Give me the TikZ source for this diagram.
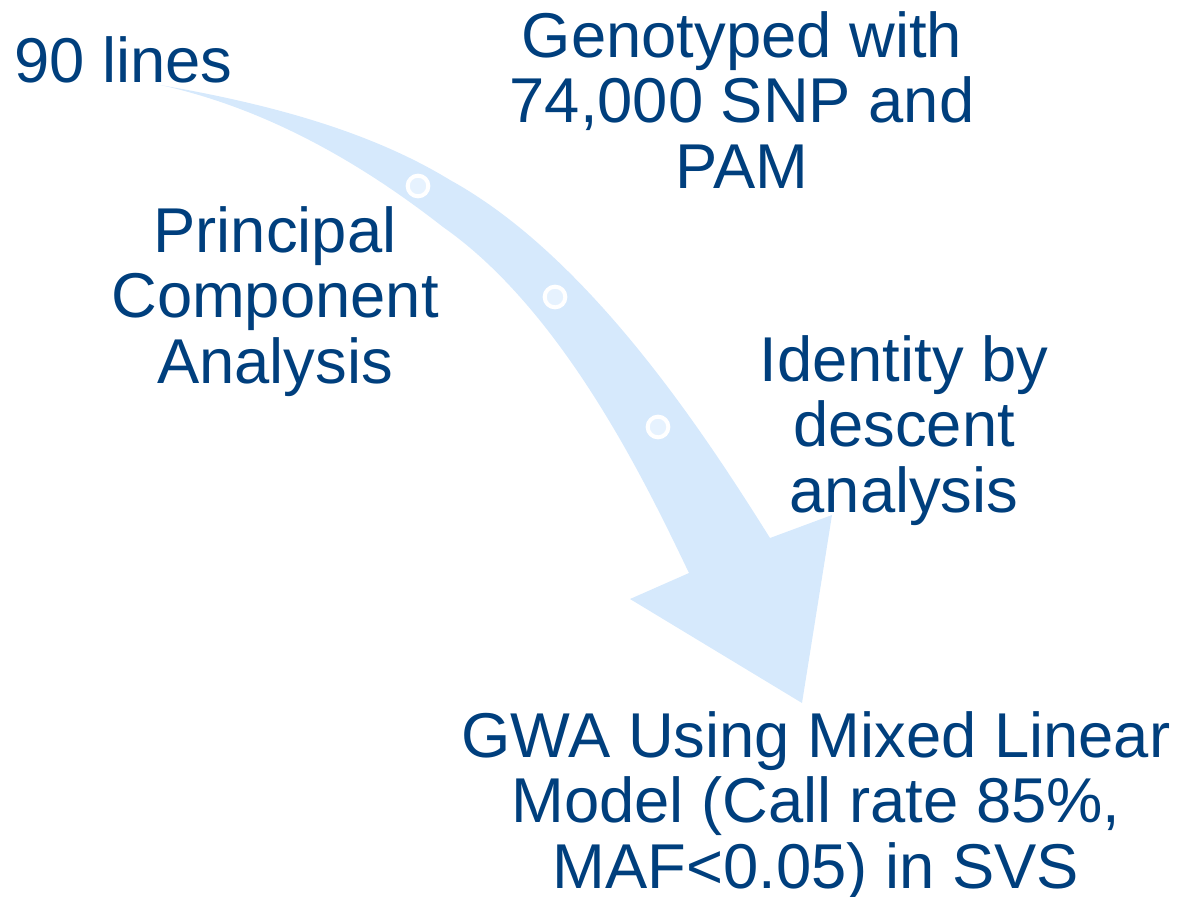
\documentclass[tikz,border=0pt]{standalone}
\usepackage{fontspec}
\setmainfont{Liberation Sans}
\usetikzlibrary{positioning}
\definecolor{stageblue}{RGB}{0,63,125}
\definecolor{arrowblue}{RGB}{214,233,252}
\definecolor{dotblue}{RGB}{230,242,254}

\begin{document}
\begin{tikzpicture}[
  x=0.75pt,
  y=-0.75pt,
  stage/.style={
    text=stageblue,
    font=\fontsize{47.5}{49}\selectfont,
    align=center,
    inner sep=0pt,
    anchor=base
  },
  marker/.style={
    circle,
    draw=white,
    fill=dotblue,
    line width=3pt,
    inner sep=0pt,
    minimum size=15.5pt
  }
]
  \useasboundingbox (0,0) rectangle (1177,896);

  \coordinate (tail)   at (160,85);
  \coordinate (ubend)  at (450,180);
  \coordinate (rnotch) at (770,538);
  \coordinate (rbarb)  at (832,515);
  \coordinate (tip)    at (802,703);
  \coordinate (lbarb)  at (630,599);
  \coordinate (lnotch) at (689,573);
  \coordinate (lbend)  at (443,227);

  % curved arrow
  \fill[arrowblue] (tail) .. controls (258,102) and (365,128) .. (ubend)
    .. controls (590,257) and (706,436) .. (rnotch)
    -- (rbarb) -- (tip) -- (lbarb) -- (lnotch)
    .. controls (650,492) and (566,313) .. (lbend)
    .. controls (360,162) and (265,108) .. (tail);

  \node[marker] (m1) at (418,186) {};
  \node[marker] (m2) at (555,297) {};
  \node[marker] (m3) at (658,427) {};

  % base anchor sits on the last line
  \node[stage] (lines)    at (123.5,82) {90 lines};
  \node[stage] (genotype) at (742,188)  {Genotyped with\\74,000 SNP and\\PAM};
  \node[stage] (pca)      at (275,383)  {Principal\\Component\\Analysis};
  \node[stage] (ibd)      at (904,512)  {Identity by\\descent\\analysis};
  \node[stage] (gwa)      at (816,888)  {GWA Using Mixed Linear\\Model (Call rate 85\%,\\MAF<0.05) in SVS};
\end{tikzpicture}
\end{document}
